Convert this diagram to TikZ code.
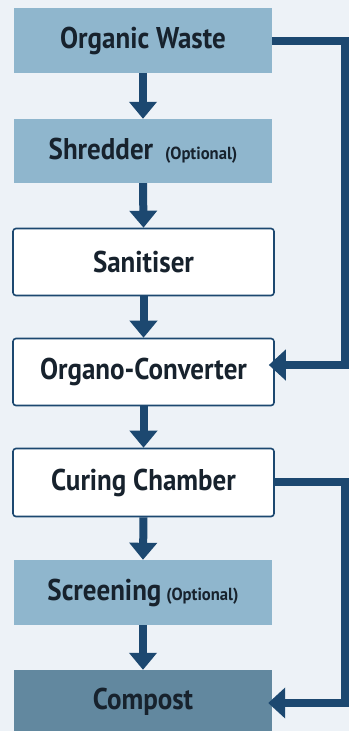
\documentclass[tikz,border=0pt]{standalone}
\usepackage{fontspec}
\setmainfont{PT Sans}[FakeStretch=0.9]
\newfontfamily\optfont{PT Sans}[FakeStretch=0.95]
\usetikzlibrary{arrows.meta}
\definecolor{bg}{HTML}{EDF2F7}
\definecolor{lightbox}{HTML}{8FB6CD}
\definecolor{darkbox}{HTML}{62889F}
\definecolor{navy}{HTML}{1C4870}
\definecolor{txt}{HTML}{17222D}
\newcommand\optsize{\optfont\fontsize{17.5}{18}\selectfont\bfseries}
\tikzset{
  box/.style={minimum width=258pt, inner sep=0pt, font=\fontsize{30}{32}\selectfont\bfseries, text=txt},
  litebox/.style={box, fill=lightbox},
  whitebox/.style={box, fill=white, draw=navy, line width=1.6pt, rounded corners=3pt, minimum width=261pt},
  darkstep/.style={box, fill=darkbox},
  flow/.style={draw=navy, line width=8pt, -{Triangle[width=27pt,length=17pt]}},
  loopflow/.style={draw=navy, line width=8pt, -{Triangle[width=30pt,length=17pt]}}
}
\begin{document}
\begin{tikzpicture}[x=1pt,y=-1pt]
\fill[bg] (0,0) rectangle (349,731);
\useasboundingbox (0,0) rectangle (349,731);
\node[litebox, minimum height=65pt] (ow) at (143,40.5) {Organic Waste};
\node[litebox, minimum height=64pt] (sh) at (143,151) {Shredder\hspace{12pt}{\optsize (Optional)}};
\node[whitebox, minimum height=67pt] (sa) at (143.5,262) {Sanitiser};
\node[whitebox, minimum height=67pt] (oc) at (143.5,372) {Organo-Converter};
\node[whitebox, minimum height=68pt] (cc) at (143.5,482.5) {Curing Chamber};
\node[litebox, minimum height=65pt] (sc) at (143,592.5) {Screening\hspace{5pt}{\optsize (Optional)}};
\node[darkstep, minimum height=64pt] (co) at (143,702) {Compost};
\coordinate (r1) at (344.5,41);
\coordinate (r2) at (344.5,482);
\draw[flow] (ow.south) -- (sh.north);
\draw[flow] (sh.south) -- (sa.north);
\draw[flow] (sa.south) -- (oc.north);
\draw[flow] (oc.south) -- (cc.north);
\draw[flow] (cc.south) -- (sc.north);
\draw[flow] (sc.south) -- (co.north);
\draw[loopflow, line join=miter] (ow.east |- r1) -- (r1) |- ([xshift=-6pt,yshift=7pt]oc.east);
\draw[loopflow, line join=miter] (cc.east |- r2) -- (r2) |- ([xshift=-4pt,yshift=-1pt]co.east);
\end{tikzpicture}
\end{document}
